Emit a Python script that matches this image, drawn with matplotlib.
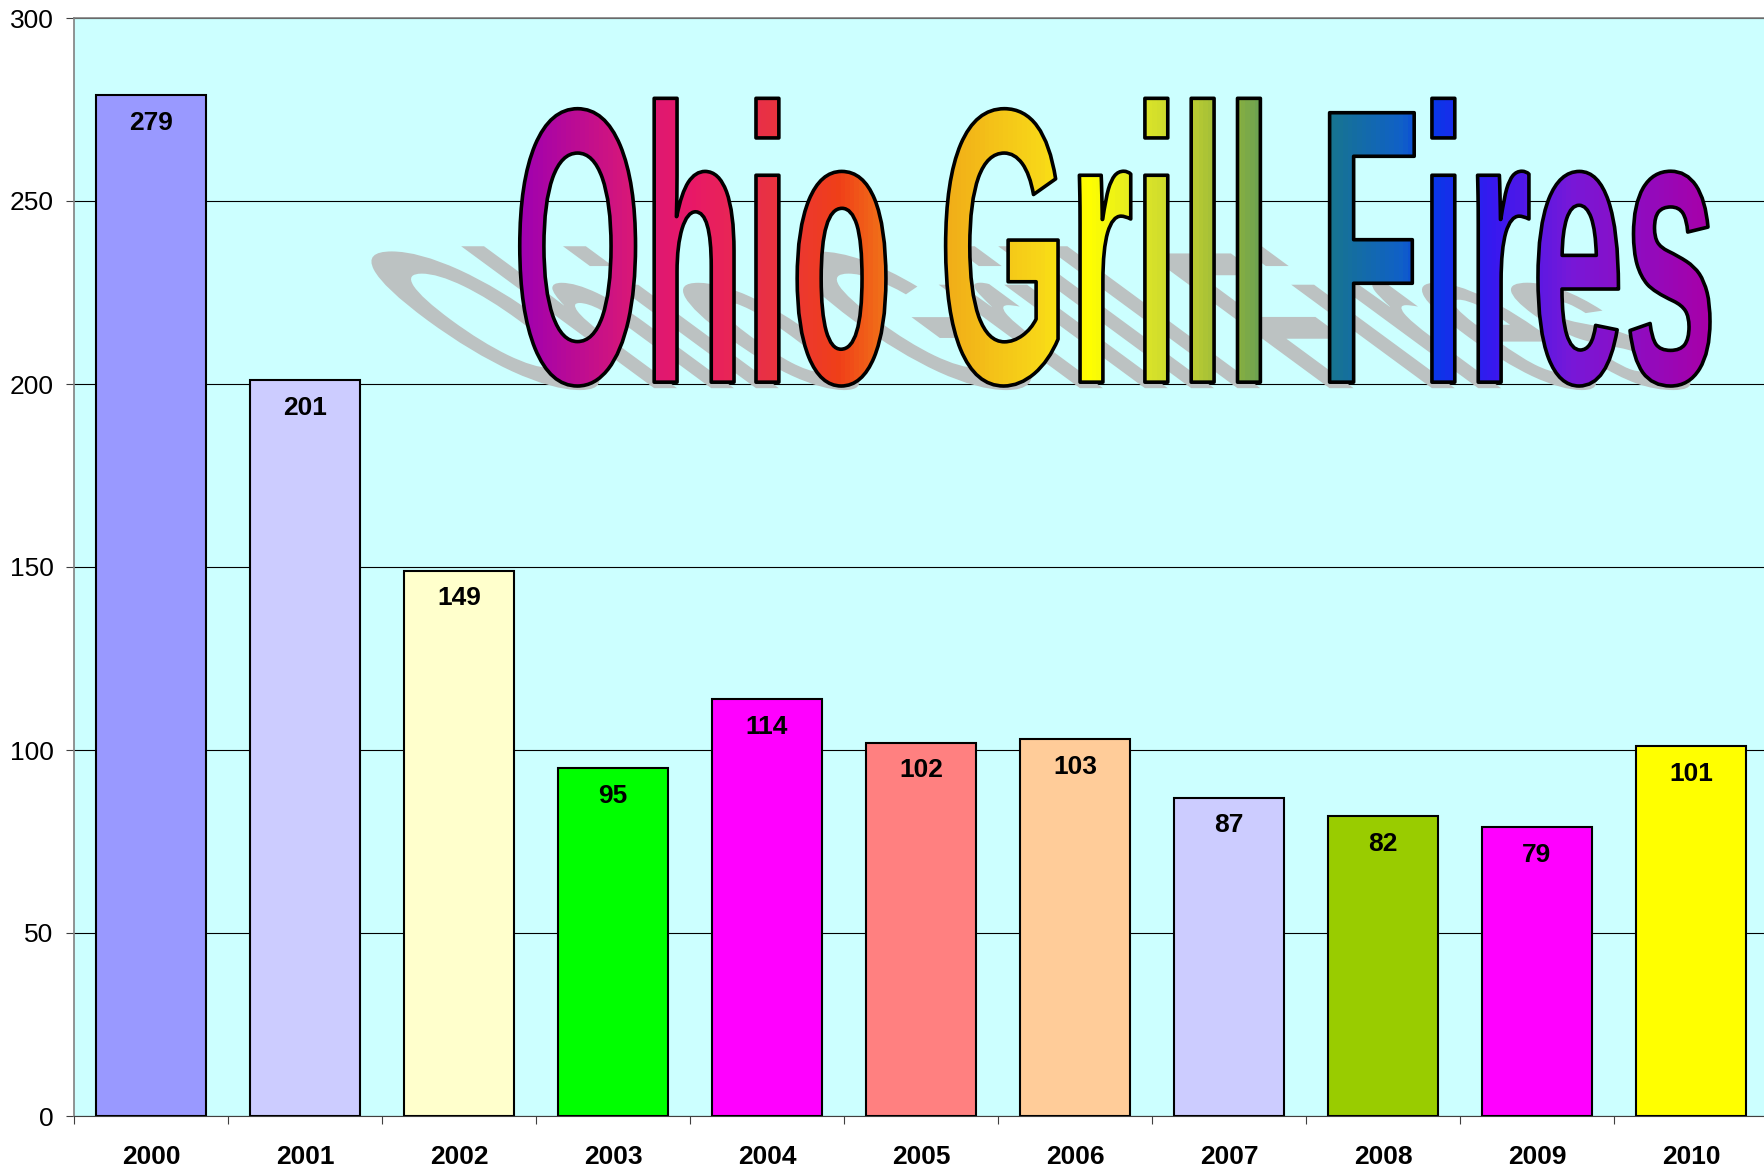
import numpy as np
import matplotlib
matplotlib.use("Agg")
import matplotlib.pyplot as plt
from matplotlib import patheffects
from matplotlib.colors import LinearSegmentedColormap
from matplotlib.transforms import Affine2D, TransformedPath

years = ["2000", "2001", "2002", "2003", "2004", "2005",
         "2006", "2007", "2008", "2009", "2010"]
fires = [279, 201, 149, 95, 114, 102, 103, 87, 82, 79, 101]
bar_colors = ["#9999ff", "#ccccff", "#ffffcc", "#00ff00", "#ff00ff", "#ff8080",
              "#ffcc99", "#ccccff", "#99cc00", "#ff00ff", "#ffff00"]

title = "Ohio Grill Fires"
# rainbow used to fill the title, left to right
title_stops = [0.0, 0.091, 0.143, 0.201, 0.268, 0.298, 0.348, 0.44, 0.478,
               0.52, 0.562, 0.604, 0.673, 0.742, 0.767, 0.82, 0.885, 1.0]
title_colors = ["#a000b0", "#d81878", "#e81868", "#e83048", "#f04018", "#f06818",
                "#f0a818", "#f8d818", "#ffff00", "#e0e828", "#c0d030", "#88b040",
                "#187888", "#1060c8", "#0838e8", "#3818f0", "#7818d8", "#a800a8"]

plt.rcParams["font.family"] = ["Liberation Sans", "DejaVu Sans"]


class WordArt(patheffects.AbstractPathEffect):
    """Tall gradient lettering with a black outline and a slanted grey shadow."""

    def __init__(self, cmap, stretch=2.35, shear=0.68, squash=0.5,
                 shadow="#bcc2c2", drop=6, outline=2.6):
        super().__init__()
        self.cmap = cmap
        self.stretch = stretch
        self.shear = shear
        self.squash = squash
        self.shadow = matplotlib.colors.to_rgb(shadow)
        self.drop = drop
        self.outline = outline

    def draw_path(self, renderer, gc, tpath, affine, rgbFace=None):
        x0, y0 = affine.transform((0, 0))
        tall = affine + Affine2D().translate(-x0, -y0).scale(1, self.stretch).translate(x0, y0)

        # shadow lying back on the baseline
        slant = Affine2D(np.array([[1, -self.shear, 0],
                                   [0, self.squash, 0],
                                   [0, 0, 1]], float))
        flat = tall + Affine2D().translate(-x0, -y0) + slant + Affine2D().translate(x0, y0 - self.drop)
        gc_s = renderer.new_gc()
        gc_s.copy_properties(gc)
        gc_s.set_linewidth(0)
        renderer.draw_path(gc_s, tpath, flat, self.shadow)
        gc_s.restore()

        # gradient fill clipped to the letters
        bb = tpath.transformed(tall).get_extents()
        left, bottom = int(np.floor(bb.x0)), int(np.floor(bb.y0))
        w = int(np.ceil(bb.x1)) - left
        h = int(np.ceil(bb.y1)) - bottom
        row = (self.cmap(np.linspace(0, 1, w)) * 255).astype(np.uint8)
        im = np.ascontiguousarray(np.repeat(row[None, :, :], h, axis=0))
        gc_f = renderer.new_gc()
        gc_f.copy_properties(gc)
        gc_f.set_clip_path(TransformedPath(tpath, tall))
        renderer.draw_image(gc_f, left, bottom, im)
        gc_f.restore()

        # black outline
        gc_o = renderer.new_gc()
        gc_o.copy_properties(gc)
        gc_o.set_linewidth(self.outline)
        gc_o.set_foreground("black")
        gc_o.set_joinstyle("round")
        renderer.draw_path(gc_o, tpath, tall, None)
        gc_o.restore()


fig = plt.figure(figsize=(17.64, 11.71), dpi=100)
ax = fig.add_axes([74 / 1764, 55 / 1171, 1694 / 1764, 1098 / 1171])
ax.set_facecolor("#ccffff")

x = np.arange(len(years))
bars = ax.bar(x, fires, width=0.714, color=bar_colors, edgecolor="black",
              linewidth=1.5, zorder=3)
for xi, v in zip(x, fires):
    ax.annotate(str(v), (xi, v), xytext=(0, -20), textcoords="offset points",
                ha="center", va="center", fontsize=19, fontweight="bold", zorder=5)

ax.set_xlim(-0.5, len(years) - 0.5)
ax.set_ylim(0, 300)
ax.set_yticks(np.arange(0, 301, 50))
ax.yaxis.grid(True, color="black", linewidth=0.8)
ax.set_axisbelow(True)

ax.set_xticks(x)
ax.set_xticklabels(years, fontsize=19, fontweight="bold")
ax.set_xticks(np.arange(-0.5, len(years), 1), minor=True)
ax.tick_params(axis="x", which="major", length=0, pad=21)
ax.tick_params(axis="x", which="minor", length=5.8, width=0.8, color="#404040", direction="out")
ax.tick_params(axis="y", length=5.8, width=0.8, color="#404040", direction="out",
               labelsize=19, pad=9)

for side in ("left", "top"):
    ax.spines[side].set_color("#808080")
    ax.spines[side].set_linewidth(1.2)
ax.spines["bottom"].set_color("#404040")
ax.spines["right"].set_visible(False)

cmap = LinearSegmentedColormap.from_list("title_rainbow", list(zip(title_stops, title_colors)))
ax.text(2.35, 200.5, title, fontsize=120, fontweight="bold", ha="left", va="baseline",
        zorder=4, clip_on=False, path_effects=[WordArt(cmap)])

fig.savefig("out.png", dpi=100)
